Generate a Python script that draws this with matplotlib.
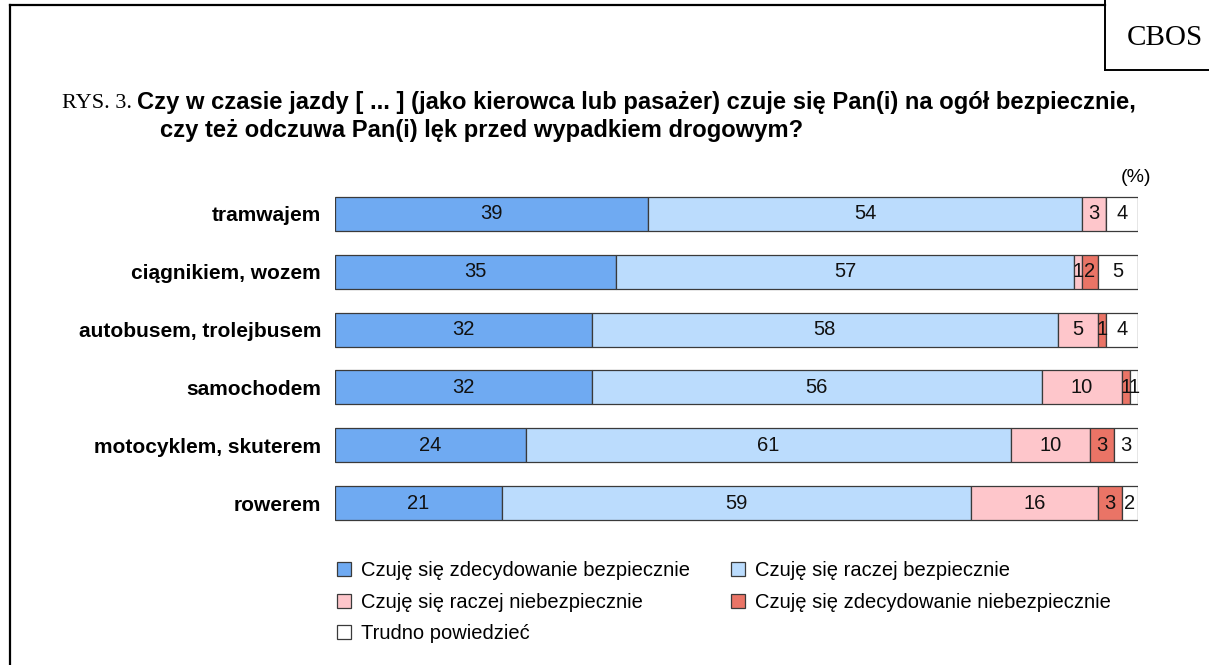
import numpy as np
import matplotlib.pyplot as plt

plt.rcParams['font.family'] = ['Liberation Sans', 'DejaVu Sans']

# data
categories = ['tramwajem', 'ciągnikiem, wozem', 'autobusem, trolejbusem',
              'samochodem', 'motocyklem, skuterem', 'rowerem']
zdec_bezp = [39, 35, 32, 32, 24, 21]
racz_bezp = [54, 57, 58, 56, 61, 59]
racz_niebezp = [3, 1, 5, 10, 10, 16]
zdec_niebezp = [0, 2, 1, 1, 3, 3]
trudno = [4, 5, 4, 1, 3, 2]

series = [zdec_bezp, racz_bezp, racz_niebezp, zdec_niebezp, trudno]
series_names = ['Czuję się zdecydowanie bezpiecznie', 'Czuję się raczej bezpiecznie',
                'Czuję się raczej niebezpiecznie', 'Czuję się zdecydowanie niebezpiecznie',
                'Trudno powiedzieć']
colors = ['#6FAAF2', '#BBDCFD', '#FEC6CB', '#EA7466', '#FFFFFF']

W, H = 1209, 665
fig = plt.figure(figsize=(W / 100, H / 100), dpi=100)

def fx(px):
    return px / W

def fy(py):
    return 1 - py / H

# outer frame (left + top) and CBOS box
fig.add_artist(plt.Line2D([fx(10), fx(10)], [fy(5), 0], color='black', lw=1.6))
fig.add_artist(plt.Line2D([fx(10), fx(1105)], [fy(5), fy(5)], color='black', lw=1.6))
fig.add_artist(plt.Line2D([fx(1105), fx(1105)], [1, fy(70)], color='black', lw=1.4))
fig.add_artist(plt.Line2D([fx(1105), 1], [fy(70), fy(70)], color='black', lw=1.4))
fig.text(fx(1127), fy(38), 'CBOS', family='Liberation Serif', fontsize=21,
         ha='left', va='center')

# title
fig.text(fx(62), fy(103), 'RYS. 3.', family='Liberation Serif', fontsize=16,
         ha='left', va='center')
fig.text(fx(137), fy(103),
         'Czy w czasie jazdy [ ... ] (jako kierowca lub pasażer) czuje się Pan(i) na ogół bezpiecznie,',
         fontsize=17.1, fontweight='bold', ha='left', va='center')
fig.text(fx(160), fy(130), 'czy też odczuwa Pan(i) lęk przed wypadkiem drogowym?',
         fontsize=17.1, fontweight='bold', ha='left', va='center')
fig.text(fx(1136), fy(177), '(%)', fontsize=14, ha='center', va='center')

# bars (segment widths scaled so each row fills the full bar)
ax = fig.add_axes([fx(335), fy(532), (1138 - 335) / W, (532 - 185) / H])
y = np.arange(len(categories))
totals = np.sum(np.array(series, dtype=float), axis=0)
left = np.zeros(len(categories))
for vals, c, name in zip(series, colors, series_names):
    vals = np.array(vals, dtype=float)
    widths = vals / totals * 100
    ax.barh(y, widths, left=left, height=0.59, color=c, edgecolor='#3a3a3a',
            linewidth=0.9, label=name)
    for yi, l, w, v in zip(y, left, widths, vals):
        if v > 0:
            ax.text(l + w / 2, yi, f'{int(v)}', ha='center', va='center',
                    fontsize=14.5, color='#111111')
    left += widths

ax.set_xlim(0, 100)
ax.set_ylim(len(categories) - 0.5, -0.5)
ax.set_yticks(y)
ax.set_yticklabels(categories, fontweight='bold', fontsize=15)
ax.tick_params(axis='y', length=0, pad=10)
ax.set_xticks([])
for s in ax.spines.values():
    s.set_visible(False)

# legend, row-wise order
handles, labels = ax.get_legend_handles_labels()
order = [0, 2, 4, 1, 3]
fig.legend([handles[i] for i in order], [labels[i] for i in order],
           loc='upper left', bbox_to_anchor=(fx(319), fy(543)), ncol=2,
           frameon=False, fontsize=14.5, handlelength=0.7, handleheight=0.7,
           handletextpad=0.5, columnspacing=2.0, labelspacing=0.62)

fig.savefig('out.png', dpi=100)
